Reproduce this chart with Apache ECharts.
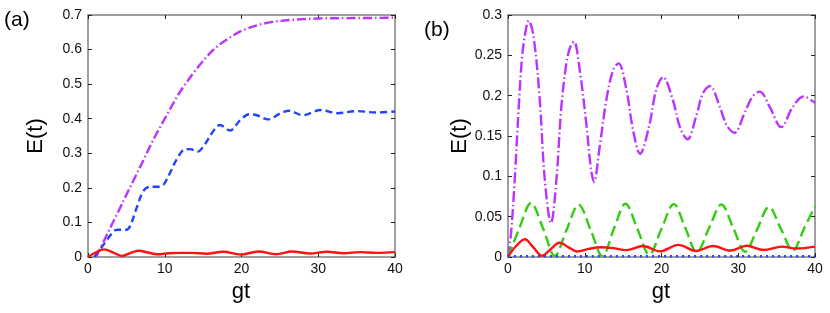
<!DOCTYPE html>
<html><head><meta charset="utf-8">
<script src="https://cdn.jsdelivr.net/npm/echarts@6/dist/echarts.min.js"></script>
<style>html,body{margin:0;padding:0;background:#fff}#c{width:830px;height:313px}</style>
</head><body><div id="c"></div>
<script>
// Panel (a)
const aPurpleT = [1.05, 2, 3, 4, 5, 6, 7, 8, 9, 10, 11, 12, 13, 14, 15, 16, 17, 18, 19, 20, 22, 24, 26, 28, 30, 34, 40];
const aPurpleV = [0, 0.043, 0.089, 0.134, 0.18, 0.225, 0.27, 0.316, 0.36, 0.4, 0.44, 0.478, 0.51, 0.54, 0.567, 0.592, 0.612, 0.628, 0.642, 0.654, 0.67, 0.68, 0.685, 0.688, 0.69, 0.691, 0.692];
const aBlueT = [0.8, 1.5, 2.5, 3.5, 4, 5, 5.5, 6.3, 7.2, 8, 9, 9.8, 10.5, 11.5, 12.5, 13.3, 14.3, 15.2, 16.2, 17.2, 18.5, 19.8, 21, 22, 23.5, 25, 26.2, 28, 30.3, 32.5, 35, 37.5, 40];
const aBlueV = [0, 0.02, 0.05, 0.077, 0.079, 0.079, 0.09, 0.14, 0.19, 0.203, 0.203, 0.208, 0.235, 0.28, 0.31, 0.312, 0.305, 0.325, 0.36, 0.382, 0.366, 0.395, 0.413, 0.41, 0.398, 0.415, 0.423, 0.41, 0.425, 0.416, 0.422, 0.418, 0.421];
const aRedT = [0, 1, 2.1, 3.3, 4.4, 5.5, 6.6, 7.8, 9, 10.5, 12, 13.5, 15.4, 17.6, 19.9, 22.2, 24.5, 26.6, 28.9, 31.1, 33.3, 35.5, 37.6, 40];
const aRedV = [0, 0.013, 0.022, 0.013, 0.003, 0.011, 0.018, 0.013, 0.008, 0.011, 0.012, 0.012, 0.0095, 0.015, 0.007, 0.016, 0.008, 0.016, 0.01, 0.015, 0.011, 0.014, 0.012, 0.014];
// Panel (b)
const bPurpleT = [0, 0.4, 0.87, 1.4, 1.8, 2.2, 2.7, 3.3, 4.1, 4.8, 5.6, 6.3, 6.95, 7.6, 8.1, 8.6, 9.3, 10.2, 10.8, 11.2, 11.95, 12.8, 13.7, 14.4, 15.4, 16.3, 17.2, 18.4, 19.3, 20.2, 21.5, 22.4, 23.4, 24.5, 25.4, 26.3, 27.6, 28.5, 29.5, 30.8, 31.8, 32.8, 34.1, 35.6, 37.1, 38.5, 40];
const bPurpleV = [0, 0.03, 0.095, 0.186, 0.244, 0.275, 0.293, 0.275, 0.2, 0.095, 0.042, 0.095, 0.186, 0.24, 0.26, 0.267, 0.235, 0.1655, 0.11, 0.093, 0.137, 0.194, 0.232, 0.24, 0.209, 0.157, 0.128, 0.163, 0.207, 0.223, 0.194, 0.161, 0.146, 0.174, 0.203, 0.212, 0.186, 0.163, 0.154, 0.178, 0.198, 0.205, 0.186, 0.161, 0.186, 0.199, 0.191];
const bGreenT = [0, 1.5, 3.0, 4.55, 6.1, 7.65, 9.2, 10.75, 12.3, 13.8, 15.3, 16.85, 18.4, 20.0, 21.6, 23.1, 24.6, 26.2, 27.8, 29.35, 30.9, 32.45, 34.0, 35.55, 37.1, 38.6, 40];
const bGreenV = [0, 0.036, 0.067, 0.036, 0.0015, 0.034, 0.065, 0.034, 0.001, 0.035, 0.066, 0.035, 0.003, 0.035, 0.0656, 0.036, 0.006, 0.036, 0.065, 0.036, 0.0066, 0.034, 0.062, 0.035, 0.008, 0.036, 0.063];
const bRedT = [0, 1, 2.2, 3.3, 4.45, 5.6, 6.7, 7.9, 9, 10.5, 12, 13.7, 15.4, 17.6, 19.8, 22.2, 24.5, 26.7, 29, 31.1, 33.3, 35.7, 37.6, 40];
const bRedV = [0, 0.013, 0.022, 0.012, 0.0015, 0.01, 0.0177, 0.012, 0.0068, 0.01, 0.012, 0.011, 0.0085, 0.0136, 0.007, 0.015, 0.0075, 0.0136, 0.008, 0.014, 0.0087, 0.0128, 0.0105, 0.0128];
const bBlueT = [0, 40];
const bBlueV = [0.001, 0.001];
const xTicks = [0, 10, 20, 30, 40];

const zip = (t, v) => t.map((x, i) => [x, v[i]]);
const FONT = 'Liberation Sans';
const axisLine = { show: true, onZero: false, lineStyle: { color: '#7f7f7f', width: 1.5 } };
const tick = { show: true, inside: true, length: 4, lineStyle: { color: '#222', width: 1 } };

function xAx(grid, pos, labels) {
  return { type: 'value', gridIndex: grid, position: pos, min: 0, max: 40, interval: 10,
    axisLine, axisTick: tick, splitLine: { show: false },
    axisLabel: { show: labels, fontFamily: FONT, fontSize: 14, color: '#111', margin: 5 } };
}
function yAx(grid, pos, labels, max, interval) {
  return { type: 'value', gridIndex: grid, position: pos, min: 0, max, interval,
    axisLine, axisTick: tick, splitLine: { show: false },
    axisLabel: { show: labels, fontFamily: FONT, fontSize: 14, color: '#111', margin: 6 } };
}
function line(xi, yi, data, color, dash, z) {
  return { type: 'line', xAxisIndex: xi, yAxisIndex: yi, data, showSymbol: false, smooth: 0.35,
    clip: true, z: z || 2, lineStyle: { color, width: 2.4, type: dash || 'solid' }, animation: false };
}

const chart = echarts.init(document.getElementById('c'), null, { renderer: 'canvas' });
chart.setOption({
  animation: false,
  backgroundColor: '#fff',
  grid: [
    { left: 88, top: 15, width: 307, height: 242 },
    { left: 508, top: 15, width: 307, height: 242 }
  ],
  xAxis: [xAx(0, 'bottom', true), xAx(0, 'top', false), xAx(1, 'bottom', true), xAx(1, 'top', false)],
  yAxis: [yAx(0, 'left', true, 0.7, 0.1), yAx(0, 'right', false, 0.7, 0.1),
          yAx(1, 'left', true, 0.3, 0.05), yAx(1, 'right', false, 0.3, 0.05)],
  series: [
    line(0, 0, zip(aPurpleT, aPurpleV), '#bb33ff', [9, 3, 1.5, 3]),
    line(0, 0, zip(aBlueT, aBlueV), '#2244ff', [7, 4]),
    line(0, 0, zip(aRedT, aRedV), '#ff1111', 'solid', 3),
    line(2, 2, zip(bPurpleT, bPurpleV), '#bb33ff', [11, 3, 1.5, 3]),
    line(2, 2, zip(bGreenT, bGreenV), '#33cc11', [11, 5]),
    line(2, 2, zip(bRedT, bRedV), '#ff1111', 'solid', 3),
    line(2, 2, zip(bBlueT, bBlueV), '#2244ff', [2, 4], 4)
  ],
  graphic: [
    { type: 'text', left: 4, top: 10, style: { text: '(a)', font: '21px "Liberation Sans"', fill: '#000' } },
    { type: 'text', left: 424, top: 20, style: { text: '(b)', font: '21px "Liberation Sans"', fill: '#000' } },
    { type: 'text', x: 241, y: 292, style: { text: 'gt', font: '22px "Liberation Sans"', fill: '#000', align: 'center', verticalAlign: 'middle' } },
    { type: 'text', x: 661, y: 292, style: { text: 'gt', font: '22px "Liberation Sans"', fill: '#000', align: 'center', verticalAlign: 'middle' } },
    { type: 'text', x: 36, y: 136, rotation: Math.PI / 2, style: { text: 'E(t)', font: '22px "Liberation Sans"', fill: '#000', align: 'center', verticalAlign: 'middle' } },
    { type: 'text', x: 460, y: 136, rotation: Math.PI / 2, style: { text: 'E(t)', font: '22px "Liberation Sans"', fill: '#000', align: 'center', verticalAlign: 'middle' } }
  ]
});
</script></body></html>
